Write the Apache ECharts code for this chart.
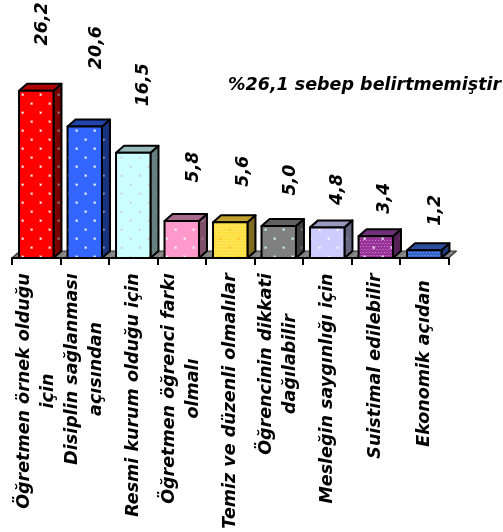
<!DOCTYPE html>
<html><head><meta charset="utf-8">
<style>html,body{margin:0;padding:0;background:#fff}#c{width:503px;height:532px}</style>
<script src="https://cdn.jsdelivr.net/npm/echarts@6/dist/echarts.min.js"></script>
</head><body><div id="c"></div>
<script>
const categoryLines = [
  ['Öğretmen örnek olduğu','için'],
  ['Disiplin sağlanması','açısından'],
  ['Resmi kurum olduğu için'],
  ['Öğretmen öğrenci farkı','olmalı'],
  ['Temiz ve düzenli olmalılar'],
  ['Öğrencinin dikkati','dağılabilir'],
  ['Mesleğin saygınlığı için'],
  ['Suistimal edilebilir'],
  ['Ekonomik açıdan']
];
const values = [26.2,20.6,16.5,5.8,5.6,5.0,4.8,3.4,1.2];
const note = '%26,1 sebep belirtmemiştir';

const FONT = '"DejaVu Sans"';
const labelNudge = [[6,-67],[12,-79],[10,-68],[12,-54],[13,-51],[12,-46],[10,-38],[9,-38],[11,-40]];
const labelGap = [0,0,0,0,0,0,0,0,7];
const looks = [
 {front:'#ff0000',top:'#b00000',side:'#7a0000',dot:'#ffffff',sideDot:'#888888',step:9},
 {front:'#3366ff',top:'#2244aa',side:'#1a3380',dot:'#ffffff',sideDot:'#8899cc',step:9},
 {front:'#ccffff',top:'#99bbbb',side:'#668080',dot:'#cfcfcf',sideDot:'#7f9090',step:9},
 {front:'#ff99cc',top:'#a86a8c',side:'#80506a',dot:'#ffffff',sideDot:'#a08090',step:9},
 {front:'#ffe040',top:'#bfa030',side:'#806c20',dot:'#ffc030',sideDot:'#907a30',step:9,mesh:'#fff0a0'},
 {front:'#808080',top:'#606060',side:'#404040',dot:'#ccffff',sideDot:'#707070',step:9},
 {front:'#ccccff',top:'#9999c0',side:'#666680',dot:'#ffffff',sideDot:'#8888a0',step:9},
 {front:'#993399',top:'#70307a',side:'#552255',dot:'#ffffff',sideDot:'#a070a0',step:9,mesh:'#cc88cc'},
 {front:'#3366cc',top:'#2a4f9f',side:'#1f3a80',dot:'#3366cc',sideDot:'#3a5a9a',step:9,mesh:'#88a0dd'}
];
function tile(base,dot,step,mesh){
  const c=document.createElement('canvas');c.width=c.height=step*2;
  const g=c.getContext('2d');g.fillStyle=base;g.fillRect(0,0,c.width,c.height);
  if(mesh){g.fillStyle=mesh;for(let y=0;y<c.height;y+=3)for(let x=(y%6?1.5:0);x<c.width;x+=3)g.fillRect(x,y,1,1);}
  g.fillStyle=dot;
  g.globalAlpha=.3;g.fillRect(3,3,3,3);g.fillRect(3+step,3+step,3,3);
  g.globalAlpha=1;g.fillRect(4,4,1.5,1.5);g.fillRect(4+step,4+step,1.5,1.5);
  return {image:c,repeat:'repeat'};
}
const DX=8, DY=7;
const SIZE=17.5;
const ctx=document.createElement('canvas').getContext('2d');
ctx.font='italic bold '+SIZE+'px '+FONT;
const rich={};
categoryLines.forEach((l,i)=>{
  rich['c'+i]={width:Math.ceil(Math.max(...l.map(s=>ctx.measureText(s).width)))+labelGap[i]*2,align:'center',
    fontFamily:FONT,fontSize:SIZE,fontWeight:'bold',fontStyle:'italic',color:'#000',lineHeight:24};
});
const names=categoryLines.map(l=>l.join(' '));
const stroke={stroke:'#000',lineWidth:2,lineJoin:'round'};

function renderFloor(p,api){
  const band=api.size([1,0])[0];
  const c=api.coord([api.value(0),0]);
  const l=c[0]-band/2,r=c[0]+band/2,y=c[1];
  return {type:'group',children:[
    {type:'polygon',shape:{points:[[l,y],[l+DX,y-DY],[r+DX,y-DY],[r,y]]},style:{fill:'#808080'}},
    {type:'line',shape:{x1:l+DX,y1:y-DY,x2:r+DX,y2:y-DY},style:{stroke:'#333',lineWidth:1}},
    ...(api.value(0)===0?[{type:'line',shape:{x1:l,y1:y,x2:l+DX,y2:y-DY},style:{stroke:'#333',lineWidth:1.2}}]:[]),
    ...(api.value(0)===values.length-1?[{type:'line',shape:{x1:r,y1:y,x2:r+DX,y2:y-DY},style:{stroke:'#333',lineWidth:1.2}}]:[])
  ]};
}
function renderBar(p,api){
  const i=api.value(0),v=api.value(1);
  const band=api.size([1,0])[0], w=band*0.71;
  const c=api.coord([i,0]), t=api.coord([i,v]);
  const l=c[0]-w/2,r=c[0]+w/2,b=c[1],y=t[1];
  const k=looks[i];
  return {type:'group',children:[
    {type:'polygon',shape:{points:[[r,y],[r+DX,y-DY],[r+DX,b-DY],[r,b]]},style:{fill:tile(k.side,k.sideDot,k.step),...stroke}},
    {type:'polygon',shape:{points:[[l,y],[l+DX,y-DY],[r+DX,y-DY],[r,y]]},style:{fill:k.top,...stroke}},
    {type:'rect',shape:{x:l,y:y,width:w,height:b-y},style:{fill:tile(k.front,k.dot,k.step,k.mesh),...stroke}},
    {type:'text',x:c[0]+labelNudge[i][0],y:y+labelNudge[i][1],rotation:Math.PI/2,
      style:{text:v.toFixed(1).replace('.',','),align:'center',verticalAlign:'middle',
        font:'italic bold '+SIZE+'px '+FONT,fill:'#000'}}
  ]};
}
const chart=echarts.init(document.getElementById('c'),null,{renderer:'canvas',width:503,height:532});
chart.setOption({
  animation:false,
  title:{text:note,left:228,top:76,padding:0,textStyle:{fontFamily:FONT,fontSize:SIZE,fontWeight:'bold',fontStyle:'italic',color:'#000'}},
  grid:{left:12,width:436.5,top:66.6,height:191.4,containLabel:false},
  xAxis:{type:'category',data:names,boundaryGap:true,z:5,
    axisLine:{show:true,onZero:false,lineStyle:{color:'#000',width:2}},
    axisTick:{show:true,alignWithLabel:false,length:7,inside:false,lineStyle:{color:'#000',width:2}},
    axisLabel:{interval:0,rotate:90,margin:15,align:'right',verticalAlign:'middle',hideOverlap:false,
      formatter:(v,i)=>categoryLines[i].map(s=>'{c'+i+'|'+s+'}').join('\n'),rich}},
  yAxis:{type:'value',min:0,max:30,show:false,splitLine:{show:false}},
  series:[
    {type:'custom',renderItem:renderFloor,data:values.map((v,i)=>[i,v]),encode:{x:0,y:1},z:1,silent:true},
    {type:'custom',renderItem:renderBar,data:values.map((v,i)=>[i,v]),encode:{x:0,y:1},z:3,clip:false}
  ]
});
</script></body></html>
